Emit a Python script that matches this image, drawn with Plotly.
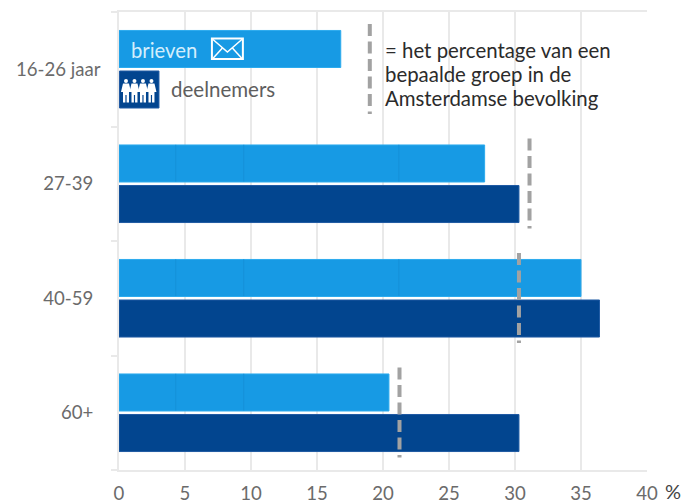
import plotly.graph_objects as go

categories = ["16-26 jaar", "27-39", "40-59", "60+"]
brieven = [16.8, 27.7, 35.0, 20.45]
deelnemers = [None, 30.3, 36.4, 30.3]
bevolking = [19.0, 31.1, 30.3, 21.25]
x_ticks = [0, 5, 10, 15, 20, 25, 30, 35, 40]
seams = [4.3, 9.45, 21.2]

LIGHT = "#179ae4"
DARK = "#02458f"
GRID = "#e9e9e9"
TICK = "#6b6b6b"
FONT = "Lato"

ypos = list(range(len(categories)))
fig = go.Figure()
fig.add_bar(y=ypos, x=brieven, orientation="h", offsetgroup="a", name="brieven",
            marker=dict(color=LIGHT, line=dict(color="#2cabee", width=1)))
fig.add_bar(y=ypos, x=deelnemers, orientation="h", offsetgroup="b", name="deelnemers",
            marker=dict(color=DARK, line=dict(color="#1f5aa3", width=1)))

# subtle seams visible in the light bars
for s in seams:
    for i in (1, 2, 3):
        if s < brieven[i]:
            fig.add_trace(go.Scatter(x=[s, s], y=[i - 0.34, i - 0.02], mode="lines",
                                     line=dict(color="#1590d8", width=1), showlegend=False, hoverinfo="skip"))

for i, v in enumerate(bevolking):
    fig.add_trace(go.Scatter(x=[v, v], y=[i - 0.395, i + 0.39], mode="lines", showlegend=False,
                             line=dict(color="#a2a2a2", width=4, dash="12px,5.5px")))

# pixel helpers for legend decoration (paper coordinates)
W, H = 686, 504
L, R, T, B = 118.5, 39, 12, 34
def px(x): return (x - L) / (W - L - R)
def py(y): return 1 - (y - T) / (H - T - B)

shapes = []
# envelope icon
shapes.append(dict(type="rect", xref="paper", yref="paper", x0=px(211.5), x1=px(242.5), y0=py(59), y1=py(38.5),
                   line=dict(color="white", width=2), fillcolor="rgba(0,0,0,0)", layer="above"))
for pts in [[(212, 39), (227, 52), (242, 39)], [(212, 59), (222, 48)], [(242, 59), (232, 48)]]:
    path = "M " + " L ".join(f"{px(a):.5f},{py(b):.5f}" for a, b in pts)
    shapes.append(dict(type="path", xref="paper", yref="paper", path=path,
                       line=dict(color="white", width=1.5), layer="above"))
# participants icon
shapes.append(dict(type="rect", xref="paper", yref="paper", x0=px(119), x1=px(158.5), y0=py(108), y1=py(71),
                   fillcolor=DARK, line=dict(color="#1f5aa3", width=1), layer="above"))
for cx in (125.5, 134, 142.5, 151):
    shapes.append(dict(type="circle", xref="paper", yref="paper", x0=px(cx - 2), x1=px(cx + 2), y0=py(83), y1=py(79),
                       fillcolor="white", line=dict(width=0), layer="above"))
    pts = [(cx - 3, 83.5), (cx + 3, 83.5), (cx + 5, 92), (cx + 3, 92), (cx + 3, 102.5), (cx + 0.6, 102.5), (cx + 0.6, 95),
           (cx - 0.6, 95), (cx - 0.6, 102.5), (cx - 3, 102.5), (cx - 3, 92), (cx - 5, 92)]
    path = "M " + " L ".join(f"{px(a):.5f},{py(b):.5f}" for a, b in pts) + " Z"
    shapes.append(dict(type="path", xref="paper", yref="paper", path=path,
                       fillcolor="white", line=dict(width=0), layer="above"))

def note(text, x, y, size, color, anchor="left"):
    return dict(text=text, xref="paper", yref="paper", x=px(x), y=py(y), xanchor=anchor, yanchor="middle",
                showarrow=False, font=dict(size=size, color=color, family=FONT))

annotations = [
    note("brieven", 129, 49.5, 20.3, "#d4eefc"),
    note("deelnemers", 168.5, 89.5, 20.5, "#5e5e5e"),
    note("= het percentage van een", 383, 49.5, 20.4, "#2b2b2b"),
    note("bepaalde groep in de", 383, 73.5, 20.4, "#2b2b2b"),
    note("Amsterdamse bevolking", 383, 97.5, 20.4, "#2b2b2b"),
    note("%", 663, 491, 20, "#444444"),
    note(categories[0], 102, 69, 18.6, TICK, "right"),
]

fig.update_layout(
    width=686, height=504, autosize=False,
    margin=dict(l=L, r=R, t=T, b=B, pad=0, autoexpand=False),
    paper_bgcolor="white", plot_bgcolor="white",
    showlegend=False, barmode="group", bargap=0.292, bargroupgap=0.086,
    font=dict(family=FONT, size=18.6, color=TICK),
    shapes=shapes, annotations=annotations,
    xaxis=dict(range=[0, 40], tickvals=x_ticks, showgrid=True, gridcolor=GRID, gridwidth=2, automargin=False,
               showline=True, linecolor=GRID, linewidth=2, mirror=True, zeroline=False,
               ticks="", tickfont=dict(size=18.6, color=TICK), ticklabelstandoff=6),
    yaxis=dict(range=[3.5, -0.5], tickvals=ypos[1:], ticktext=categories[1:], showgrid=False, zeroline=False,
               automargin=False, showline=True, linecolor=GRID, linewidth=2, ticks="", ticklen=0,
               ticklabelstandoff=20, tickfont=dict(size=18.6, color=TICK),
               minor=dict(tick0=0.5, dtick=1, ticks="outside", ticklen=6, tickcolor=GRID, tickwidth=1.5)),
)

fig.write_html("out.html", config=dict(displayModeBar=False),
               post_script="document.body.style.margin='0';document.documentElement.style.overflow='hidden';")
